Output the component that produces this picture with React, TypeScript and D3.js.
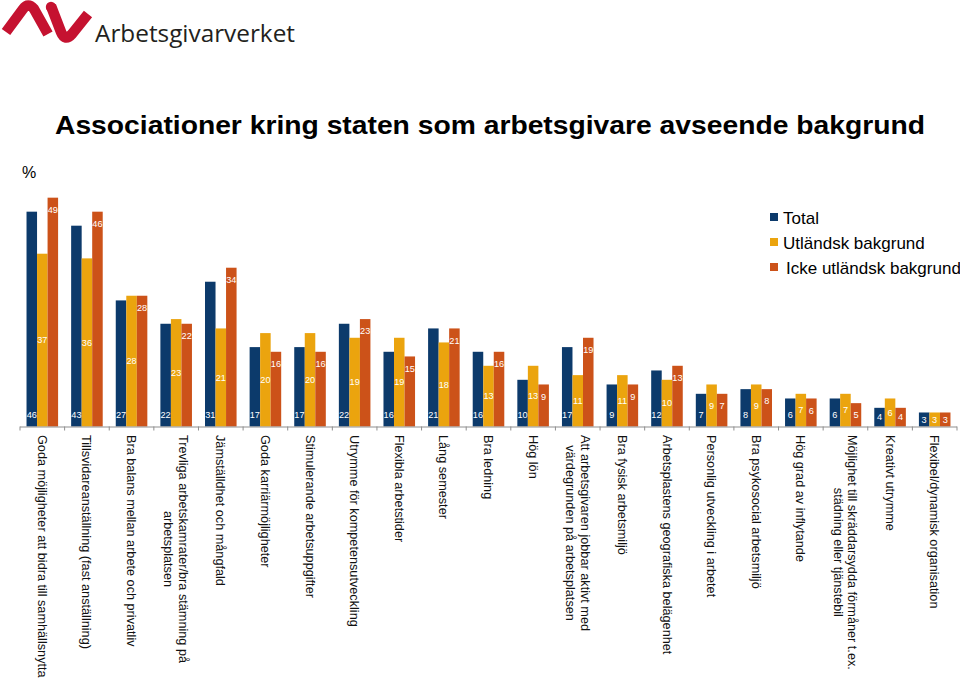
import { scaleBand, scaleLinear } from 'd3'

// Associationer kring staten som arbetsgivare, per bakgrund. Three bars per
// statement, value labels inside the bars, statements rotated under the axis.
const categories: string[][] = [
  ['Goda möjligheter att bidra till samhällsnytta'],
  ['Tillsvidareanställning (fast anställning)'],
  ['Bra balans mellan arbete och privatliv'],
  ['Trevliga arbetskamrater/bra stämning på', 'arbetsplatsen'],
  ['Jämställdhet och mångfald'],
  ['Goda karriärmöjligheter'],
  ['Stimulerande arbetsuppgifter'],
  ['Utrymme för kompetensutveckling'],
  ['Flexibla arbetstider'],
  ['Lång semester'],
  ['Bra ledning'],
  ['Hög lön'],
  ['Att arbetsgivaren jobbar aktivt med', 'värdegrunden på arbetsplatsen'],
  ['Bra fysisk arbetsmiljö'],
  ['Arbetsplastens geografiska belägenhet'],
  ['Personlig utveckling i arbetet'],
  ['Bra psykosocial arbetsmiljö'],
  ['Hög grad av inflytande'],
  ['Möjlighet till skräddarsydda förmåner t.ex.', 'städning eller tjänstebil'],
  ['Kreativt utrymme'],
  ['Flexibel/dynamisk organisation'],
]

const total = [46, 43, 27, 22, 31, 17, 17, 22, 16, 21, 16, 10, 17, 9, 12, 7, 8, 6, 6, 4, 3]
const utlandsk = [37, 36, 28, 23, 21, 20, 20, 19, 19, 18, 13, 13, 11, 11, 10, 9, 9, 7, 7, 6, 3]
const icke = [49, 46, 28, 22, 34, 16, 16, 23, 15, 21, 16, 9, 19, 9, 13, 7, 8, 6, 5, 4, 3]

const seriesNames = ['Total', 'Utländsk bakgrund', 'Icke utländsk bakgrund']
const seriesColors = ['#0c3a6b', '#eba40e', '#cc5219']

const W = 960
const H = 681
const FONT = "'Liberation Sans', Arial, Helvetica, sans-serif"
const CAT_SIZE = 12.7

let ctx: CanvasRenderingContext2D | null = null
function textWidth(s: string, size: number) {
  if (!ctx) ctx = document.createElement('canvas').getContext('2d')
  if (!ctx) return s.length * size * 0.5
  ctx.font = `${size}px 'Liberation Sans'`
  return ctx.measureText(s).width
}

function range(n: number) {
  return Array.from({ length: n }, (_, i) => i)
}

function Logo() {
  return (
    <g>
      <path
        d="M6,32 L23,9 Q28,2 34,9 L48,34"
        fill="none"
        stroke="#c51230"
        strokeWidth={10.5}
        strokeLinejoin="round"
      />
      <path
        d="M51,6 L61,32 Q65,42 72,34 L88,14"
        fill="none"
        stroke="#c51230"
        strokeWidth={10.5}
        strokeLinejoin="round"
        strokeLinecap="butt"
      />
      <circle cx={51} cy={7} r={5.2} fill="#c51230" />
      <text
        x={95}
        y={41.5}
        fontFamily="'Open Sans', 'DejaVu Sans', sans-serif"
        fontSize={24.5}
        fill="#231f20"
        textLength={200}
        lengthAdjust="spacingAndGlyphs"
      >
        Arbetsgivarverket
      </text>
    </g>
  )
}

export default function App() {
  const values = [total, utlandsk, icke]
  const x = scaleBand<number>().domain(range(categories.length)).range([20, 957]).paddingInner(0).paddingOuter(0)
  const xs = scaleBand<number>().domain([0, 1, 2]).range([0, x.bandwidth()]).paddingInner(0).paddingOuter(0.62)
  const y = scaleLinear().domain([0, 50]).range([426.5, 193])
  const base = y(0)

  return (
    <svg
      width={W}
      height={H}
      viewBox={`0 0 ${W} ${H}`}
      style={{ position: 'absolute', left: 0, top: 0, background: '#fff' }}
      fontFamily={FONT}
    >
      <rect width={W} height={H} fill="#fff" />
      <Logo />
      <text
        x={55}
        y={133.5}
        fontSize={26.5}
        fontWeight="bold"
        fill="#000"
        textLength={870}
        lengthAdjust="spacingAndGlyphs"
      >
        Associationer kring staten som arbetsgivare avseende bakgrund
      </text>
      <text x={22} y={178} fontSize={16} fill="#000">
        %
      </text>

      {categories.map((_, i) => (
        <g key={i} transform={`translate(${x(i)},0)`}>
          {values.map((vals, s) => {
            const v = vals[i]
            const bx = xs(s)!
            const top = y(v)
            const mid = (top + base) / 2
            const ly = s === 0 ? Math.max(415, mid) : s === 1 ? mid : Math.min(top + 12, mid)
            return (
              <g key={s}>
                <rect x={bx} y={top} width={xs.bandwidth()} height={base - top} fill={seriesColors[s]} />
                <text
                  x={bx + xs.bandwidth() / 2}
                  y={ly}
                  dy="0.35em"
                  textAnchor="middle"
                  fontSize={9.2}
                  fill="#fff"
                >
                  {v}
                </text>
              </g>
            )
          })}
        </g>
      ))}

      <line x1={20} x2={957} y1={base + 0.5} y2={base + 0.5} stroke="#8f8f8f" strokeWidth={1} />
      {range(categories.length + 1).map((i) => {
        const tx = i < categories.length ? x(i)! : 957
        return <line key={i} x1={tx} x2={tx} y1={base} y2={base + 4} stroke="#8f8f8f" strokeWidth={1} />
      })}

      {categories.map((lines, i) => {
        const cx = x(i)! + x.bandwidth() / 2
        const maxW = Math.max(...lines.map((l) => textWidth(l, CAT_SIZE)))
        const lh = 15
        const off = ((lines.length - 1) * lh) / 2
        return (
          <g key={i} transform={`translate(${cx},435) rotate(90)`}>
            {lines.map((l, j) => (
              <text
                key={j}
                x={maxW / 2}
                y={-off + j * lh}
                dy="0.35em"
                textAnchor="middle"
                fontSize={CAT_SIZE}
                fill="#111"
              >
                {l}
              </text>
            ))}
          </g>
        )
      })}

      {seriesNames.map((n, s) => (
        <g key={n} transform={`translate(770,${213 + s * 25})`}>
          <rect x={0} y={0} width={8} height={8} fill={seriesColors[s]} />
          <text x={s === 2 ? 16 : 13} y={10.5} fontSize={17} fill="#000">
            {n}
          </text>
        </g>
      ))}
    </svg>
  )
}
